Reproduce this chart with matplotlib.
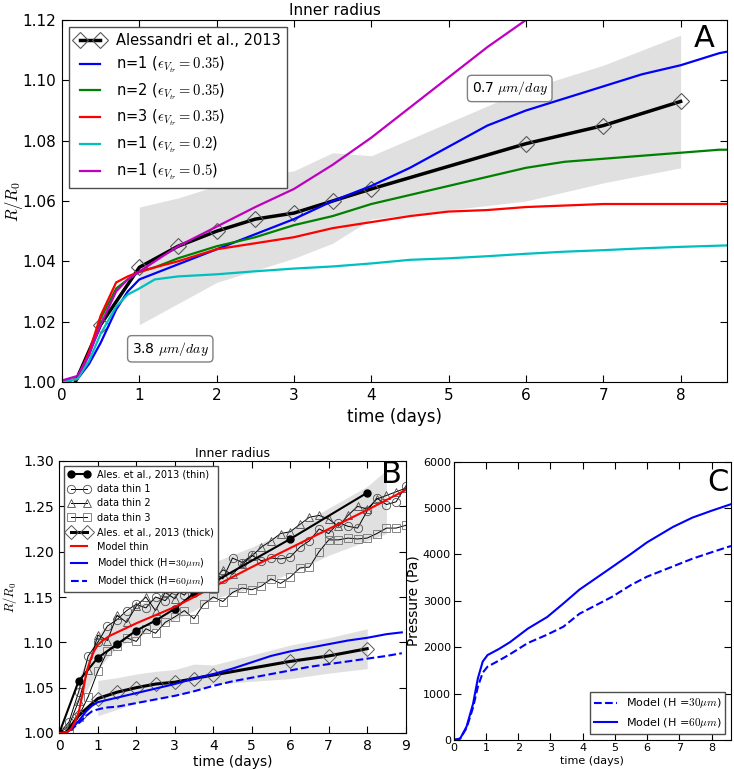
import matplotlib
matplotlib.use('Agg')
import matplotlib.pyplot as plt
from matplotlib.ticker import FormatStrFormatter

plt.rcParams['font.family'] = ['DejaVu Sans']
plt.rcParams['mathtext.fontset'] = 'cm'

# ---- experimental data, thick (Alessandri et al., 2013) ----
t_ales = [0, 0.5, 1, 1.5, 2, 2.5, 3, 3.5, 4, 6, 7, 8]
r_ales = [0.990, 1.019, 1.038, 1.045, 1.050, 1.054, 1.056, 1.060, 1.064, 1.079, 1.085, 1.093]
t_band = [1, 1.5, 2, 2.5, 3, 3.5, 4, 6, 7, 8]
band_lo = [1.019, 1.026, 1.033, 1.037, 1.041, 1.046, 1.054, 1.060, 1.066, 1.071]
band_hi = [1.058, 1.061, 1.065, 1.068, 1.070, 1.076, 1.075, 1.097, 1.105, 1.115]

# ---- model curves (panel A, and thick models in B) ----
t_model = [0, 0.2, 0.35, 0.5, 0.7, 0.85, 1.0, 1.2, 1.5, 2.0, 2.5, 3.0, 3.5, 4.0,
           4.5, 5.0, 5.5, 6.0, 6.5, 7.0, 7.5, 8.0, 8.5, 8.9]
n1_035 = [1.000, 1.001, 1.006, 1.013, 1.024, 1.030, 1.034, 1.036, 1.039, 1.044, 1.049, 1.054,
          1.060, 1.065, 1.071, 1.078, 1.085, 1.090, 1.094, 1.098, 1.102, 1.105, 1.109, 1.111]
n2_035 = [1.000, 1.001, 1.009, 1.021, 1.031, 1.034, 1.0365, 1.038, 1.041, 1.045, 1.048, 1.052,
          1.055, 1.059, 1.062, 1.065, 1.068, 1.071, 1.073, 1.074, 1.075, 1.076, 1.077, 1.077]
n3_035 = [1.000, 1.001, 1.010, 1.022, 1.033, 1.035, 1.0365, 1.038, 1.040, 1.044, 1.046, 1.048,
          1.051, 1.053, 1.055, 1.0565, 1.057, 1.058, 1.0585, 1.059, 1.059, 1.059, 1.059, 1.059]
n1_02 = [1.000, 1.001, 1.007, 1.016, 1.025, 1.029, 1.031, 1.034, 1.035, 1.0357, 1.0367, 1.0376,
         1.0383, 1.0393, 1.0405, 1.041, 1.0417, 1.0425, 1.0432, 1.0437, 1.0443, 1.0448, 1.0452, 1.0455]
n1_05 = [1.0005, 1.002, 1.009, 1.019, 1.030, 1.034, 1.0366, 1.040, 1.045, 1.0515, 1.058, 1.064,
         1.072, 1.081, 1.091, 1.101, 1.111, 1.120, 1.129, 1.138, 1.147, 1.155, 1.163, 1.170]
thick_h60 = [1.000, 1.001, 1.005, 1.011, 1.019, 1.024, 1.026, 1.028, 1.029, 1.033, 1.037, 1.041,
             1.046, 1.052, 1.057, 1.061, 1.065, 1.069, 1.073, 1.076, 1.079, 1.082, 1.085, 1.088]

# ---- thin capsules (panel B) ----
t_thin_ales = [0, 0.5, 1, 1.5, 2, 2.5, 3, 3.5, 4, 6, 8]
r_thin_ales = [1.000, 1.057, 1.083, 1.098, 1.113, 1.124, 1.137, 1.154, 1.166, 1.214, 1.265]
t_thin_band = [0.5, 1, 1.5, 2, 2.5, 3, 3.5, 4, 5, 6, 7, 8, 8.5]
thin_lo = [1.030, 1.070, 1.095, 1.105, 1.115, 1.125, 1.135, 1.148, 1.160, 1.176, 1.196, 1.212, 1.220]
thin_hi = [1.060, 1.110, 1.127, 1.140, 1.150, 1.160, 1.172, 1.188, 1.205, 1.224, 1.248, 1.272, 1.290]

t_thin = [0, 0.25, 0.5, 0.75, 1, 1.25, 1.5, 1.75, 2, 2.25, 2.5, 2.75, 3, 3.25, 3.5, 3.75, 4,
          4.25, 4.5, 4.75, 5, 5.25, 5.5, 5.75, 6, 6.25, 6.5, 6.75, 7, 7.25, 7.5, 7.75, 8,
          8.25, 8.5, 8.75, 9]
thin1 = [1.000, 1.012, 1.045, 1.085, 1.100, 1.118, 1.125, 1.135, 1.142, 1.138, 1.150, 1.146,
         1.158, 1.152, 1.165, 1.172, 1.178, 1.170, 1.193, 1.188, 1.196, 1.190, 1.193, 1.192,
         1.194, 1.205, 1.212, 1.225, 1.220, 1.232, 1.228, 1.226, 1.245, 1.259, 1.252, 1.255, 1.272]
thin2 = [1.000, 1.008, 1.035, 1.070, 1.108, 1.102, 1.130, 1.122, 1.140, 1.150, 1.135, 1.155,
         1.148, 1.165, 1.160, 1.172, 1.168, 1.180, 1.175, 1.186, 1.195, 1.205, 1.212, 1.220,
         1.222, 1.230, 1.238, 1.240, 1.236, 1.228, 1.240, 1.250, 1.247, 1.258, 1.262, 1.266, 1.270]
thin3 = [1.000, 1.003, 1.018, 1.040, 1.068, 1.090, 1.096, 1.105, 1.101, 1.115, 1.110, 1.122,
         1.128, 1.135, 1.126, 1.142, 1.150, 1.145, 1.155, 1.160, 1.158, 1.162, 1.170, 1.165,
         1.172, 1.182, 1.183, 1.200, 1.213, 1.213, 1.215, 1.214, 1.215, 1.220, 1.226, 1.226, 1.229]
t_red = [0, 0.2, 0.3, 0.4, 0.5, 0.6, 0.7, 0.8, 0.9, 1.0, 1.1, 1.3, 1.5, 2, 2.5, 3, 3.5, 4,
         5, 6, 7, 8, 9]
model_thin = [1.000, 1.001, 1.004, 1.012, 1.022, 1.042, 1.066, 1.080, 1.090, 1.097, 1.101, 1.107,
              1.111, 1.121, 1.130, 1.139, 1.150, 1.161, 1.183, 1.204, 1.225, 1.246, 1.268]

# ---- pressure (panel C) ----
t_press = [0, 0.2, 0.4, 0.6, 0.75, 0.9, 1.05, 1.4, 1.75, 2.3, 2.9, 3.4, 3.9, 4.4, 4.9,
           5.5, 6.0, 6.8, 7.4, 8.0, 8.6]
p_h60 = [0, 30, 290, 780, 1330, 1690, 1830, 1960, 2110, 2400, 2650, 2940, 3240, 3480, 3720,
         4010, 4260, 4590, 4790, 4940, 5080]
p_h30 = [0, 30, 260, 700, 1150, 1450, 1580, 1710, 1850, 2090, 2270, 2440, 2720, 2900, 3080,
         3340, 3520, 3740, 3905, 4045, 4180]

W, H = 734, 769
fig = plt.figure(figsize=(W / 100, H / 100), dpi=100)


def box(l, t, r, b):
    return [l / W, 1 - b / H, (r - l) / W, (b - t) / H]


def style(ax, size):
    ax.tick_params(direction='in', top=True, right=True, labelsize=size,
                   length=5, width=0.8, pad=4)
    for s in ax.spines.values():
        s.set_linewidth(0.8)


axA = fig.add_axes(box(62, 20, 727, 382))
axB = fig.add_axes(box(59.3, 461, 405.7, 733))
axC = fig.add_axes(box(453.7, 461.5, 731, 740))

# ----- A -----
axA.fill_between(t_band, band_lo, band_hi, color='0.88', lw=0, zorder=0)
axA.plot(t_ales, r_ales, color='k', lw=2.5, marker='D', ms=8, mfc='none', mec='0.35',
         mew=0.8, label='Alessandri et al., 2013')
axA.plot(t_model, n1_035, color='b', lw=1.6, label=r'n=1 ($\epsilon_{V_{tr}}=0.35$)')
axA.plot(t_model, n2_035, color='g', lw=1.6, label=r'n=2 ($\epsilon_{V_{tr}}=0.35$)')
axA.plot(t_model, n3_035, color='r', lw=1.6, label=r'n=3 ($\epsilon_{V_{tr}}=0.35$)')
axA.plot(t_model, n1_02, color='c', lw=1.6, label=r'n=1 ($\epsilon_{V_{tr}}=0.2$)')
axA.plot(t_model, n1_05, color='m', lw=1.6, label=r'n=1 ($\epsilon_{V_{tr}}=0.5$)')
axA.set_xlim(0, 8.6)
axA.set_ylim(1.0, 1.12)
axA.set_xticks(range(0, 9))
axA.set_yticks([1.00, 1.02, 1.04, 1.06, 1.08, 1.10, 1.12])
axA.yaxis.set_major_formatter(FormatStrFormatter('%.2f'))
style(axA, 11)
axA.set_xlabel('time (days)', fontsize=12)
axA.set_ylabel(r'$R/R_0$', fontsize=12)
axA.yaxis.set_label_coords(-0.056, 0.5)
axA.text(0.41, 1.005, 'Inner radius', transform=axA.transAxes, ha='center', va='bottom', fontsize=11)
axA.text(0.965, 0.948, 'A', transform=axA.transAxes, ha='center', va='center', fontsize=22)
bb = dict(boxstyle='round,pad=0.3', fc='white', ec='0.5')
axA.text(1.4, 1.011, r'3.8 $\mu m/day$', fontsize=10, ha='center', va='center', bbox=bb)
axA.text(5.79, 1.0973, r'0.7 $\mu m/day$', fontsize=10, ha='center', va='center', bbox=bb)
axA.legend(loc='upper left', fontsize=10.5, numpoints=2, handlelength=2, labelspacing=0.45,
           fancybox=False, edgecolor='0.3', framealpha=1)

# ----- B -----
axB.fill_between(t_band, band_lo, band_hi, color='0.88', lw=0, zorder=0)
axB.fill_between(t_thin_band, thin_lo, thin_hi, color='0.88', lw=0, zorder=0)
axB.plot(t_thin_ales, r_thin_ales, color='k', lw=1.5, marker='o', ms=5, zorder=4,
         label='Ales. et al., 2013 (thin)')
axB.plot(t_thin, thin1, color='k', lw=0.7, marker='o', ms=6, mfc='none', mec='0.3', mew=0.6,
         label='data thin 1')
axB.plot(t_thin, thin2, color='k', lw=0.7, marker='^', ms=6, mfc='none', mec='0.3', mew=0.6,
         label='data thin 2')
axB.plot(t_thin, thin3, color='k', lw=0.7, marker='s', ms=6, mfc='none', mec='0.45', mew=0.6,
         label='data thin 3')
axB.plot(t_ales, r_ales, color='k', lw=2.2, marker='D', ms=7, mfc='none', mec='0.35',
         mew=0.7, label='Ales. et al., 2013 (thick)')
axB.plot(t_red, model_thin, color='r', lw=1.5, zorder=5, label='Model thin')
axB.plot(t_model, n1_035, color='b', lw=1.5, label=r'Model thick (H=$30\mu m$)')
axB.plot(t_model, thick_h60, color='b', lw=1.5, ls='--', label=r'Model thick (H=$60\mu m$)')
axB.set_xlim(0, 9)
axB.set_ylim(1.0, 1.3)
axB.set_xticks(range(0, 10))
axB.set_yticks([1.00, 1.05, 1.10, 1.15, 1.20, 1.25, 1.30])
axB.yaxis.set_major_formatter(FormatStrFormatter('%.2f'))
style(axB, 10)
axB.set_xlabel('time (days)', fontsize=10, labelpad=2)
axB.set_ylabel(r'$R/R_0$', fontsize=9)
axB.yaxis.set_label_coords(-0.116, 0.5)
axB.set_title('Inner radius', fontsize=9, pad=3)
axB.text(0.96, 0.949, 'B', transform=axB.transAxes, ha='center', va='center', fontsize=22)
axB.legend(loc='upper left', fontsize=7, numpoints=2, handlelength=2.2, labelspacing=0.45,
           fancybox=False, edgecolor='0.3', framealpha=1)

# ----- C -----
axC.plot(t_press, p_h30, color='b', lw=1.5, ls='--', label=r'Model (H =$30\mu m$)')
axC.plot(t_press, p_h60, color='b', lw=1.5, label=r'Model (H =$60\mu m$)')
axC.set_xlim(0, 8.6)
axC.set_ylim(0, 6000)
axC.set_xticks(range(0, 9))
axC.set_yticks(range(0, 6001, 1000))
style(axC, 8)
axC.tick_params(pad=2)
axC.set_xlabel('time (days)', fontsize=8, labelpad=2)
axC.set_ylabel('Pressure (Pa)', fontsize=10)
axC.yaxis.set_label_coords(-0.121, 0.5)
axC.text(0.953, 0.926, 'C', transform=axC.transAxes, ha='center', va='center', fontsize=22)
axC.legend(loc='lower right', fontsize=8, handlelength=2, fancybox=False, edgecolor='0.3',
           framealpha=1)

fig.savefig('out.png', dpi=100, facecolor='white')
